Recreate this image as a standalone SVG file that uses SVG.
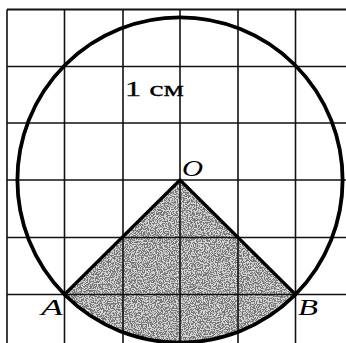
<svg xmlns="http://www.w3.org/2000/svg" width="346" height="343" viewBox="0 0 346 343">
<style>
.grid line{stroke:#111;stroke-width:1.6}
.bold{fill:none;stroke:#000;stroke-linecap:round}
.lbl{font-family:"Liberation Serif","Times New Roman",serif;fill:#000}
.it{font-style:italic;font-size:24px}
</style>
<defs>
<filter id="speck" x="0" y="0" width="1" height="1">
<feTurbulence type="fractalNoise" baseFrequency="0.85" numOctaves="2" seed="3" result="n"/>
<feColorMatrix in="n" type="matrix" values="0 0 0 0 0  0 0 0 0 0  0 0 0 0 0  0 0 0 -9 5.0" result="d"/>
<feComposite in="d" in2="SourceGraphic" operator="in"/>
</filter>
</defs>
<rect width="346" height="343" fill="#fff"/>
<g id="shaded">
<path d="M180,180 L64.5,294.5 A162.6,162.6 0 0 0 295.5,294.5 Z" fill="#d6d6d6"/>
<path d="M180,180 L64.5,294.5 A162.6,162.6 0 0 0 295.5,294.5 Z" fill="#000" filter="url(#speck)" opacity="0.45"/>
</g>
<g id="grid" class="grid">
<line x1="7" y1="9.5" x2="346" y2="9.5" style="stroke-width:2"/>
<line x1="7" y1="66.5" x2="346" y2="66.5"/>
<line x1="7" y1="123" x2="346" y2="123"/>
<line x1="7" y1="180" x2="346" y2="180"/>
<line x1="7" y1="237.5" x2="346" y2="237.5"/>
<line x1="7" y1="294.5" x2="346" y2="294.5"/>
<line x1="7" y1="9.5" x2="7" y2="343"/>
<line x1="64.5" y1="9.5" x2="64.5" y2="343"/>
<line x1="123" y1="9.5" x2="123" y2="343"/>
<line x1="180" y1="9.5" x2="180" y2="343"/>
<line x1="238" y1="9.5" x2="238" y2="343"/>
<line x1="295.5" y1="9.5" x2="295.5" y2="343"/>
</g>
<g id="circle">
<circle cx="180" cy="180" r="162.6" class="bold" stroke-width="3.8"/>
</g>
<g id="triangle">
<polyline points="64.5,294.5 180,180 295.5,294.5" class="bold" stroke-width="3.2" stroke-linejoin="round"/>
</g>
<g id="labels" class="lbl">
<text x="125" y="96" font-size="22" textLength="59" lengthAdjust="spacingAndGlyphs" stroke="#000" stroke-width="0.3">1 см</text>
<text x="182" y="176" class="it" textLength="21" lengthAdjust="spacingAndGlyphs">O</text>
<text x="41" y="315" class="it" textLength="22" lengthAdjust="spacingAndGlyphs">A</text>
<text x="298" y="315" class="it" textLength="20" lengthAdjust="spacingAndGlyphs">B</text>
</g>
</svg>
